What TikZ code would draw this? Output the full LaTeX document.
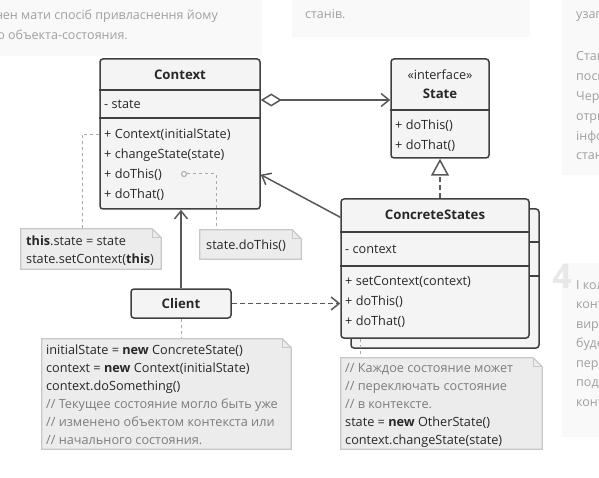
\documentclass[tikz,border=0pt]{standalone}
\usepackage{fontspec}
\setmainfont{Open Sans}
\usetikzlibrary{arrows.meta,positioning,calc}
\definecolor{boxline}{RGB}{64,64,64}
\definecolor{boxfill}{RGB}{244,244,244}
\definecolor{notefill}{RGB}{236,236,236}
\definecolor{noteline}{RGB}{200,200,200}
\definecolor{wire}{RGB}{88,88,88}
\definecolor{hint}{RGB}{170,170,170}
\definecolor{ink}{RGB}{40,40,40}
\definecolor{comment}{RGB}{125,125,125}
\definecolor{panelfill}{RGB}{249,249,249}
\definecolor{paneltext}{RGB}{160,160,160}
\definecolor{digit}{RGB}{232,232,232}
\tikzset{
  umlbox/.style={draw=boxline, fill=boxfill, line width=1.5pt, rounded corners=3pt, inner sep=0pt},
  sep/.style={draw=boxline, line width=1.5pt},
  member/.style={anchor=base west, inner sep=0pt, text=ink, font=\fontsize{12.7}{15}\selectfont},
  title/.style={member, anchor=base, font=\bfseries\fontsize{13.2}{15}\selectfont},
  notebg/.style={inner sep=0pt},
  notetxt/.style={anchor=base west, inner sep=0pt, text=ink, font=\fontsize{12.7}{15}\selectfont},
  paneltxt/.style={anchor=base west, inner sep=0pt, text=paneltext, font=\fontsize{12.5}{15}\selectfont},
  wire/.style={draw=wire, line width=1.5pt},
  dashwire/.style={wire, dash pattern=on 5pt off 3pt},
  hintline/.style={draw=hint, line width=1pt, dash pattern=on 3pt off 3pt},
  barb/.style={-{Straight Barb[length=8pt,width=13pt]}}
}
\newcommand\dognote[1]{%
  \draw[draw=noteline, fill=notefill, line width=1.2pt] (#1.south west) -- (#1.north west)
    -- ([xshift=-9pt]#1.north east) -- ([yshift=-9pt]#1.north east) -- (#1.south east) -- cycle;
  \draw[draw=noteline, line width=1.2pt] ([xshift=-9pt]#1.north east) |- ([yshift=-9pt]#1.north east);}

\begin{document}
\begin{tikzpicture}[x=1pt, y=-1pt]
  \useasboundingbox (0,0) rectangle (599,478);
  \clip (0,0) rectangle (599,478);

  \fill[panelfill] (-5,-5) rectangle (262,56);
  \fill[panelfill] (292,-5) rectangle (530,37);
  \fill[panelfill] (562,-5) rectangle (604,175);
  \fill[panelfill] (562,263) rectangle (604,437);
  \node[paneltxt, anchor=base east] (p1a) at (218,20) {повинен мати спосіб привласнення йому};
  \node[paneltxt, anchor=base east] (p1b) at (128,40) {нового объекта-состояния.};
  \node[paneltxt] (p2a) at (305,19) {станів.};
  \node[paneltxt] (p3a) at (576,19) {узагальнений};
  \foreach \t [count=\i from 0] in {Стани, посилання, Через, отримати, інформацію, стану}
    \node[paneltxt] (p3\i) at (576,61+19.8*\i) {\t};
  \node[font=\bfseries\fontsize{34}{34}\selectfont, text=digit, inner sep=0pt] (four) at (562,276) {4};
  \foreach \t [count=\i from 0] in {І коли, контекст, вирішить, буде, перейти, подальше, контексту}
    \node[paneltxt] (p4\i) at (576,289+19.5*\i) {\t};

  \node[notebg, minimum width=140pt, minimum height=40pt] (thisnote) at (91,249) {};
  \node[notebg, minimum width=101pt, minimum height=29pt] (dothisnote) at (250.5,244.5) {};
  \node[notebg, minimum width=249pt, minimum height=110pt] (clinote) at (166.5,394) {};
  \node[notebg, minimum width=201pt, minimum height=91pt] (csnote) at (441.5,403.5) {};

  \node[umlbox, minimum width=160pt, minimum height=150pt] (ctx) at (180,134) {};
  \draw[sep] (ctx.west |- 0,90) -- (ctx.east |- 0,90);
  \draw[sep] (ctx.west |- 0,118) -- (ctx.east |- 0,118);
  \node[title] (ctxname) at (180,79.5) {Context};
  \node[member] (ctxattr) at (104,108.5) {- state};
  \foreach \t [count=\i] in {+ Context(initialState), + changeState(state), + doThis(), + doThat()}
    \node[member] (m\i) at (104,118.5+20*\i) {\t};
  \node[circle, draw=hint, line width=1pt, inner sep=0pt, minimum size=5pt] (dot) at (184,174) {};

  \node[umlbox, minimum width=98pt, minimum height=99pt] (st) at (440,108.5) {};
  \draw[sep] (st.west |- 0,110) -- (st.east |- 0,110);
  \node[member, anchor=base] (stereo) at (440,79.5) {«interface»};
  \node[title] (stname) at (440,98.5) {State};
  \node[member] (s1) at (395,129.5) {+ doThis()};
  \node[member] (s2) at (395,149.5) {+ doThat()};

  \node[umlbox, minimum width=188pt, minimum height=139pt] (csb) at (445,278.5) {};
  \draw[sep] (csb.west |- 0,242) -- (csb.east |- 0,242);
  \draw[sep] (csb.west |- 0,276) -- (csb.east |- 0,276);
  \node[umlbox, minimum width=188pt, minimum height=139pt] (cs) at (435,268.5) {};
  \draw[sep] (cs.west |- 0,232) -- (cs.east |- 0,232);
  \draw[sep] (cs.west |- 0,266) -- (cs.east |- 0,266);
  \node[title] (csname) at (435,219.5) {ConcreteStates};
  \node[member] (csattr) at (345,253.5) {- context};
  \foreach \t [count=\i from 0] in {+ setContext(context), + doThis(), + doThat()}
    \node[member] (k\i) at (345,285+20*\i) {\t};

  \node[umlbox, minimum width=100pt, minimum height=29pt] (cli) at (181,303.5) {};
  \node[title] (cliname) at (181,308) {Client};

  \draw[hintline] (ctx.west |- m1) -| ([xshift=-9pt]thisnote.north);
  \draw[hintline] (dot.east) -| ([xshift=-34.5pt]dothisnote.north);
  \draw[hintline] (cli.south) -- (cli.south |- clinote.north);
  \draw[hintline] ([xshift=-75pt]cs.south) -- ([xshift=-75pt]cs.south |- csnote.north);

  \dognote{thisnote}
  \node[notetxt] (a1) at (26,245) {\textbf{this}.state = state};
  \node[notetxt] (a2) at (26,263) {state.setContext(\textbf{this})};
  \dognote{dothisnote}
  \node[notetxt] (b1) at (206,249) {state.doThis()};
  \dognote{clinote}
  \foreach \t [count=\i from 0] in {initialState = \textbf{new} ConcreteState(),
      context = \textbf{new} Context(initialState), context.doSomething(),
      {\color{comment}// Текущее состояние могло быть уже},
      {\color{comment}// изменено объектом контекста или},
      {\color{comment}// начального состояния.}}
    \node[notetxt] (c\i) at (46,354+18*\i) {\t};
  \dognote{csnote}
  \foreach \t [count=\i from 0] in {{\color{comment}// Каждое состояние может},
      {\color{comment}// переключать состояние},
      {\color{comment}// в контексте.},
      state = \textbf{new} OtherState(), context.changeState(state)}
    \node[notetxt] (d\i) at (345,372+18*\i) {\t};

  \coordinate (aggy) at (0,100);
  \draw[wire, {Diamond[open,length=21pt,width=13pt]}-{Straight Barb[length=8pt,width=13pt]}]
    (ctx.east |- aggy) -- (st.west |- aggy);
  \draw[dashwire, -{Triangle[open,length=17pt,width=18pt]}] (cs.north -| st.south) -- (st.south);
  \draw[wire, barb] ([yshift=-19pt]cs.north west) -- (ctx.east |- m3);
  \draw[wire, barb] (cli.north) -- (cli.north |- ctx.south);
  \draw[dashwire, barb] (cli.east) -- (cli.east -| cs.west);
\end{tikzpicture}
\end{document}
